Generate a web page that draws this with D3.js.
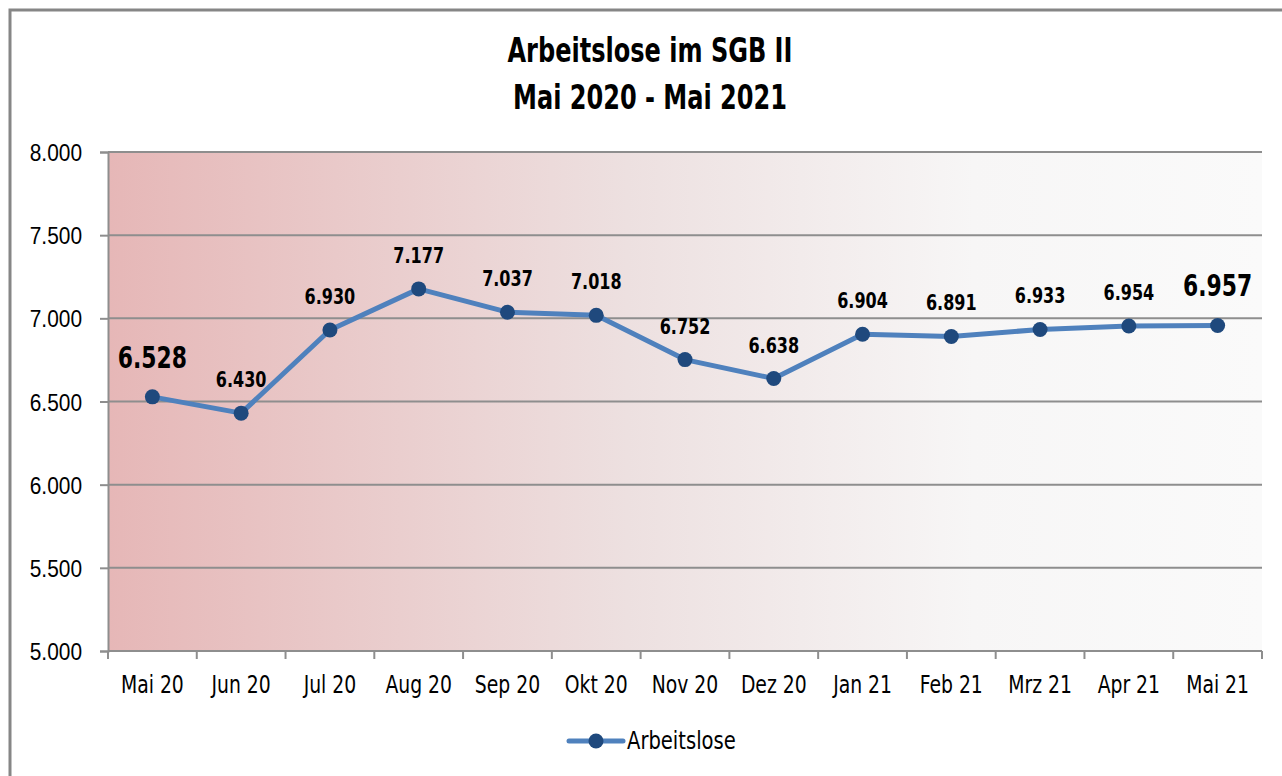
<!DOCTYPE html>
<html>
<head>
<meta charset="utf-8">
<script src="https://cdn.jsdelivr.net/npm/d3@7"></script>
<style>
  html, body { margin: 0; padding: 0; background: #fff; }
  svg { display: block; font-family: 'DejaVu Sans Condensed', 'DejaVu Sans', sans-serif; }
</style>
</head>
<body>
<div id="chart"></div>
<script>
const months = ['Mai 20', 'Jun 20', 'Jul 20', 'Aug 20', 'Sep 20', 'Okt 20', 'Nov 20',
  'Dez 20', 'Jan 21', 'Feb 21', 'Mrz 21', 'Apr 21', 'Mai 21'];
const arbeitslose = [6528, 6430, 6930, 7177, 7037, 7018, 6752, 6638, 6904, 6891, 6933, 6954, 6957];
const yTicks = [5000, 5500, 6000, 6500, 7000, 7500, 8000];
const titleLines = ['Arbeitslose im SGB II', 'Mai 2020 - Mai 2021'];
const seriesName = 'Arbeitslose';

const width = 1282;
const height = 776;
const plot = { left: 108, right: 1262, top: 152, bottom: 651 };
// the original uses a narrow face, so squeeze the text horizontally
const narrow = 0.87;
const narrowBold = 0.81;

const de = d3.formatLocale({ decimal: ',', thousands: '.', grouping: [3], currency: ['', ' €'] });
const fmt = de.format(',.0f');

const svg = d3.select('#chart').append('svg')
  .attr('width', width)
  .attr('height', height);

const squeeze = (k) => (sel) => sel.attr('transform', function () {
  const d = d3.select(this);
  return `translate(${+d.attr('data-x')},${+d.attr('data-y')}) scale(${k},1)`;
});

// outer frame
svg.append('path')
  .attr('d', `M10,${height + 5}V10H${width + 5}`)
  .attr('fill', 'none')
  .attr('stroke', '#868686')
  .attr('stroke-width', 3);

const grad = svg.append('defs').append('linearGradient')
  .attr('id', 'bg')
  .attr('x1', '0%').attr('x2', '100%')
  .attr('y1', '0%').attr('y2', '0%');
grad.append('stop').attr('offset', '0%').attr('stop-color', '#e6b7b7');
grad.append('stop').attr('offset', '45%').attr('stop-color', '#ede0e0');
grad.append('stop').attr('offset', '75%').attr('stop-color', '#f7f6f6');
grad.append('stop').attr('offset', '100%').attr('stop-color', '#fafafa');

const x = d3.scaleBand()
  .domain(months)
  .range([plot.left, plot.right]);

const y = d3.scaleLinear()
  .domain([5000, 8000])
  .range([plot.bottom, plot.top]);

svg.append('rect')
  .attr('x', plot.left)
  .attr('y', plot.top)
  .attr('width', plot.right - plot.left)
  .attr('height', plot.bottom - plot.top)
  .attr('fill', 'url(#bg)');

// gridlines
svg.append('g')
  .selectAll('line')
  .data(yTicks.filter((d) => d > 5000))
  .join('line')
  .attr('x1', plot.left)
  .attr('x2', plot.right)
  .attr('y1', (d) => y(d))
  .attr('y2', (d) => y(d))
  .attr('stroke', '#8e8e8e')
  .attr('stroke-width', 2);

// y axis
const yAxis = svg.append('g')
  .attr('transform', `translate(${plot.left},0)`)
  .call(d3.axisLeft(y).tickValues(yTicks).tickFormat(fmt).tickSize(8).tickPadding(26));
yAxis.select('.domain').attr('stroke', '#8e8e8e').attr('stroke-width', 2);
yAxis.selectAll('.tick line').attr('stroke', '#8e8e8e').attr('stroke-width', 2);
yAxis.selectAll('.tick text')
  .attr('font-size', 24)
  .attr('font-family', 'inherit')
  .attr('fill', '#000')
  .attr('x', 0)
  .attr('dy', '0.36em')
  .attr('transform', `translate(-26,0) scale(${narrow},1)`);

// x axis: ticks at category boundaries
const xAxis = svg.append('g')
  .attr('transform', `translate(0,${plot.bottom})`);
xAxis.append('line')
  .attr('x1', plot.left).attr('x2', plot.right)
  .attr('stroke', '#8e8e8e').attr('stroke-width', 2);
xAxis.selectAll('line.tk')
  .data(months.map((m) => x(m)).concat([plot.right]))
  .join('line')
  .attr('class', 'tk')
  .attr('x1', (d) => d).attr('x2', (d) => d)
  .attr('y1', 0).attr('y2', 8)
  .attr('stroke', '#8e8e8e').attr('stroke-width', 2);
xAxis.selectAll('text')
  .data(months)
  .join('text')
  .attr('data-x', (d) => x(d) + x.bandwidth() / 2)
  .attr('data-y', 42)
  .attr('text-anchor', 'middle')
  .attr('font-size', 24)
  .attr('fill', '#000')
  .text((d) => d)
  .call(squeeze(narrow));

// series
const pts = months.map((m, i) => [x(m) + x.bandwidth() / 2, y(arbeitslose[i])]);

svg.append('path')
  .datum(pts)
  .attr('fill', 'none')
  .attr('stroke', '#4f81bd')
  .attr('stroke-width', 5)
  .attr('stroke-linejoin', 'round')
  .attr('stroke-linecap', 'round')
  .attr('d', d3.line());

svg.append('g')
  .selectAll('circle')
  .data(pts)
  .join('circle')
  .attr('cx', (d) => d[0])
  .attr('cy', (d) => d[1])
  .attr('r', 7.5)
  .attr('fill', '#1f497d');

const last = months.length - 1;
const big = (i) => i === 0 || i === last;
svg.append('g')
  .selectAll('text')
  .data(arbeitslose)
  .join('text')
  .attr('data-x', (d, i) => pts[i][0])
  .attr('data-y', (d, i) => pts[i][1] - (big(i) ? 29 : 26))
  .attr('text-anchor', 'middle')
  .attr('font-weight', 'bold')
  .attr('font-size', (d, i) => (big(i) ? 30 : 22))
  .attr('fill', '#000')
  .text((d) => fmt(d))
  .call(squeeze(narrowBold));

// title
svg.append('g')
  .selectAll('text')
  .data(titleLines)
  .join('text')
  .attr('data-x', 650)
  .attr('data-y', (d, i) => 62 + i * 47)
  .attr('text-anchor', 'middle')
  .attr('font-weight', 'bold')
  .attr('font-size', 33)
  .attr('fill', '#000')
  .text((d) => d)
  .call(squeeze(narrowBold));

// legend
const legend = svg.append('g').attr('transform', 'translate(569,741)');
legend.append('line')
  .attr('x1', 0).attr('x2', 54)
  .attr('stroke', '#4f81bd').attr('stroke-width', 5)
  .attr('stroke-linecap', 'round');
legend.append('circle')
  .attr('cx', 27).attr('r', 7.5)
  .attr('fill', '#1f497d');
legend.append('text')
  .attr('data-x', 58)
  .attr('data-y', 8)
  .attr('font-size', 25)
  .attr('fill', '#000')
  .text(seriesName)
  .call(squeeze(narrow));
</script>
</body>
</html>
